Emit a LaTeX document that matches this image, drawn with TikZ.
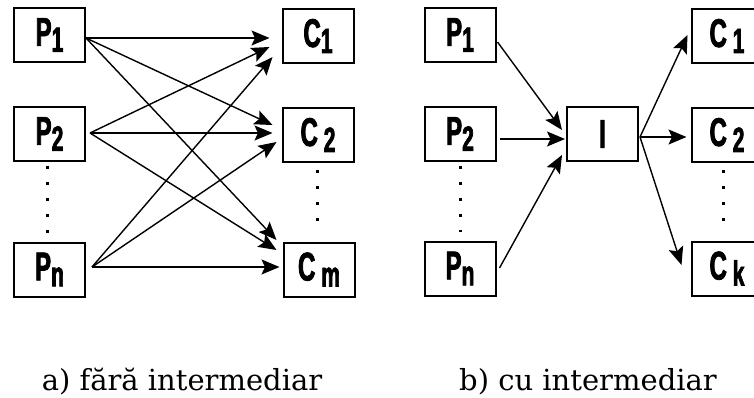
\documentclass[tikz,border=0pt]{standalone}
\usepackage{fontspec}
\setmainfont{DejaVu Serif}
\newfontfamily\boxfont[FakeStretch=0.6, FakeBold=2]{Liberation Sans Bold}
\usetikzlibrary{arrows.meta, calc}

% letter with a lowered, smaller index
\newcommand{\lbl}[2]{#1\raisebox{-6pt}{\fontsize{35}{35}\selectfont #2}}

\begin{document}
\begin{tikzpicture}[x=1pt, y=-1pt, >={Stealth[length=18pt, width=15pt, inset=3.5pt]},
    actor/.style={draw, line width=2pt, minimum width=71pt, minimum height=54pt,
        inner sep=0pt, font=\boxfont\fontsize{40}{40}\selectfont},
    flow/.style={->, line width=1.4pt},
    dots/.style={line width=3pt, dash pattern=on 3pt off 13pt},
    caption/.style={anchor=base, font=\fontsize{29}{29}\selectfont}]
    \useasboundingbox (0,0) rectangle (754,398);
    \clip (0,0) rectangle (754,398);

    % a) fara intermediar
    \node[actor] (p1) at (49.5,35) {\lbl{P}{1}};
    \node[actor] (p2) at (49.5,134) {\lbl{P}{2}};
    \node[actor] (pn) at (49.5,269.5) {\lbl{P}{n}};
    \node[actor] (c1) at (318,36) {\lbl{C}{1}};
    \node[actor] (c2) at (318,135) {\lbl{C}{\,2}};
    \node[actor] (cm) at (319,269.5) {\lbl{C}{\,m}};

    \draw[flow] ($(p1.east)+(0,3)$) -- ($(c1.west)+(-12,2)$);
    \draw[flow] ($(p1.east)+(0,3)$) -- ($(c2.west)+(-9,-10)$);
    \draw[flow] ($(p1.east)+(0,3)$) -- ($(cm.west)+(-6,-29.5)$);
    \draw[flow] ($(p2.east)+(4,-1)$) -- ($(c1.west)+(-12,11)$);
    \draw[flow] ($(p2.east)+(4,-1)$) -- ($(c2.west)+(-9,-2)$);
    \draw[flow] ($(p2.east)+(4,-1)$) -- ($(cm.west)+(-6,-19.5)$);
    \draw[flow] ($(pn.east)+(6,-2.5)$) -- ($(c1.west)+(-9,21)$);
    \draw[flow] ($(pn.east)+(6,-2.5)$) -- ($(c2.west)+(-5,7)$);
    \draw[flow] ($(pn.east)+(6,-2.5)$) -- ($(cm.west)+(-3,-2.5)$);

    \draw[dots] ($(p2.south)+(-2.5,4)$) -- ($(pn.north)+(-2.5,-9)$);
    \draw[dots] ($(c2.south)+(-1,7)$) -- ($(cm.north)+(-2,-9)$);

    \node[caption] (ca) at (182,390) {a) fără intermediar};

    % b) cu intermediar
    \node[actor] (q1) at (460,35) {\lbl{P}{1}};
    \node[actor] (q2) at (460,134) {\lbl{P}{2}};
    \node[actor] (qn) at (460,268.5) {\lbl{P}{n}};
    \node[actor] (im) at (602.5,134) {I};
    \node[actor] (d1) at (727,36) {\lbl{C}{\,1}};
    \node[actor] (d2) at (727,135) {\lbl{C}{\,2}};
    \node[actor] (dk) at (727,268.5) {\lbl{C}{\,k}};

    \draw[flow] ($(q1.east)+(1,7)$) -- ($(im.west)+(-4,-4)$);
    \draw[flow] ($(q2.east)+(3,5)$) -- ($(im.west)+(-1,5)$);
    \draw[flow] ($(qn.east)+(3,-0.5)$) -- ($(im.west)+(-4,21)$);
    \draw[flow] ($(im.east)+(1,3)$) -- ($(d1.west)+(-3,-1)$);
    \draw[flow] ($(im.east)+(1,3)$) -- ($(d2.west)+(-4,2)$);
    \draw[flow] ($(im.east)+(1,3)$) -- ($(dk.west)+(-9,-3.5)$);

    \draw[dots] ($(q2.south)+(0,4)$) -- ($(qn.north)+(0,-9)$);
    \draw[dots] ($(d2.south)+(-4,7)$) -- ($(dk.north)+(-4,-9)$);

    \node[caption] (cb) at (588,390) {b) cu intermediar};
\end{tikzpicture}
\end{document}
